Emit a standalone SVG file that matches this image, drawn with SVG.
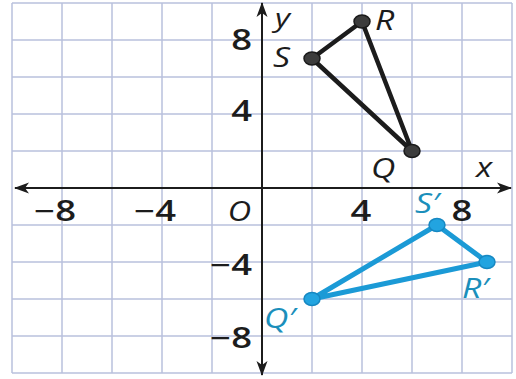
<svg xmlns="http://www.w3.org/2000/svg" width="516" height="379" viewBox="0 0 516 379">
  <defs>
    <marker id="arr" viewBox="0 0 16 12" refX="15" refY="6" markerWidth="16" markerHeight="12" markerUnits="userSpaceOnUse" orient="auto-start-reverse">
      <path d="M16,6 L1,0.5 L5,6 L1,11.5 Z" fill="#1c1c1c"/>
    </marker>
    <style>
      .grid line { stroke: #b9c0dc; stroke-width: 1.5; }
      .axis { stroke: #1c1c1c; stroke-width: 2; fill: none; }
      .num { font-family: "Open Sans", "DejaVu Sans", sans-serif; font-size: 28px; font-weight: 600; fill: #1c1c1c; }
      .lbl { font-family: "Open Sans", "DejaVu Sans", sans-serif; font-size: 27px; font-style: italic; font-weight: 500; fill: #1c1c1c; }
      .lblb { font-family: "Open Sans", "DejaVu Sans", sans-serif; font-size: 27px; font-style: italic; font-weight: 500; fill: #1b8fbb; }
      .tri { fill: none; stroke: #1c1c1c; stroke-width: 4.5; stroke-linejoin: round; }
      .trib { fill: none; stroke: #1b9ad6; stroke-width: 5; stroke-linejoin: round; }
      .pt { fill: #3c3c3c; stroke: #1a1a1a; stroke-width: 1.5; }
      .ptb { fill: #22a4e0; stroke: #1688c2; stroke-width: 1.5; }
    </style>
  </defs>
  <rect x="0" y="0" width="516" height="379" fill="#ffffff"/>
  <g id="grid" class="grid">
    <line x1="12" y1="3" x2="12" y2="373"/>
    <line x1="62" y1="3" x2="62" y2="373"/>
    <line x1="112" y1="3" x2="112" y2="373"/>
    <line x1="162" y1="3" x2="162" y2="373"/>
    <line x1="212" y1="3" x2="212" y2="373"/>
    <line x1="312" y1="3" x2="312" y2="373"/>
    <line x1="362" y1="3" x2="362" y2="373"/>
    <line x1="412" y1="3" x2="412" y2="373"/>
    <line x1="462" y1="3" x2="462" y2="373"/>
    <line x1="512" y1="3" x2="512" y2="373"/>
    <line x1="12" y1="3" x2="512" y2="3"/>
    <line x1="12" y1="40" x2="512" y2="40"/>
    <line x1="12" y1="77" x2="512" y2="77"/>
    <line x1="12" y1="114" x2="512" y2="114"/>
    <line x1="12" y1="151" x2="512" y2="151"/>
    <line x1="12" y1="225" x2="512" y2="225"/>
    <line x1="12" y1="262" x2="512" y2="262"/>
    <line x1="12" y1="299" x2="512" y2="299"/>
    <line x1="12" y1="336" x2="512" y2="336"/>
    <line x1="12" y1="373" x2="512" y2="373"/>
  </g>
  <g id="axes">
    <line class="axis" x1="15" y1="188" x2="511" y2="188" marker-start="url(#arr)" marker-end="url(#arr)"/>
    <line class="axis" x1="262" y1="3" x2="262" y2="375" marker-start="url(#arr)" marker-end="url(#arr)"/>
  </g>
  <g id="tick-labels">
    <text class="num" text-anchor="end" transform="translate(252,50) scale(1.3,1)">8</text>
    <text class="num" text-anchor="end" transform="translate(252,121) scale(1.3,1)">4</text>
    <text class="num" text-anchor="end" transform="translate(252,275) scale(1.3,1)">−4</text>
    <text class="num" text-anchor="end" transform="translate(252,348) scale(1.3,1)">−8</text>
    <text class="num" text-anchor="end" transform="translate(76,221) scale(1.3,1)">−8</text>
    <text class="num" text-anchor="end" transform="translate(176,221) scale(1.3,1)">−4</text>
    <text class="lbl" text-anchor="end" transform="translate(251,221) scale(1.2,1)">O</text>
    <text class="num" text-anchor="middle" transform="translate(361,221) scale(1.3,1)">4</text>
    <text class="num" text-anchor="middle" transform="translate(462,221) scale(1.3,1)">8</text>
    <text class="lbl" transform="translate(476,177) scale(1.25,1)">x</text>
    <text class="lbl" style="font-size:25px" transform="translate(275,27) scale(1.3,1)">y</text>
  </g>
  <g id="connectors">
    <polygon class="tri" points="362,21.5 312,58.5 412,151"/>
    <polygon class="trib" points="437,225 487,262 312,299"/>
  </g>
  <g id="R">
    <ellipse class="pt" cx="362" cy="21.5" rx="8" ry="6.5"/>
    <text class="lbl" transform="translate(375,30) scale(1.25,1)">R</text>
  </g>
  <g id="S">
    <ellipse class="pt" cx="312" cy="58.5" rx="8" ry="6.5"/>
    <text class="lbl" transform="translate(273,67) scale(1.25,1)">S</text>
  </g>
  <g id="Q">
    <ellipse class="pt" cx="412" cy="151" rx="8" ry="6.5"/>
    <text class="lbl" transform="translate(371,178) scale(1.25,1)">Q</text>
  </g>
  <g id="S-prime">
    <ellipse class="ptb" cx="437" cy="225" rx="8" ry="6.5"/>
    <text class="lblb" transform="translate(415,213) scale(1.25,1)">S′</text>
  </g>
  <g id="R-prime">
    <ellipse class="ptb" cx="487" cy="262" rx="8" ry="6.5"/>
    <text class="lblb" transform="translate(462,298) scale(1.25,1)">R′</text>
  </g>
  <g id="Q-prime">
    <ellipse class="ptb" cx="312" cy="299" rx="8" ry="6.5"/>
    <text class="lblb" transform="translate(264,328) scale(1.25,1)">Q′</text>
  </g>
</svg>
